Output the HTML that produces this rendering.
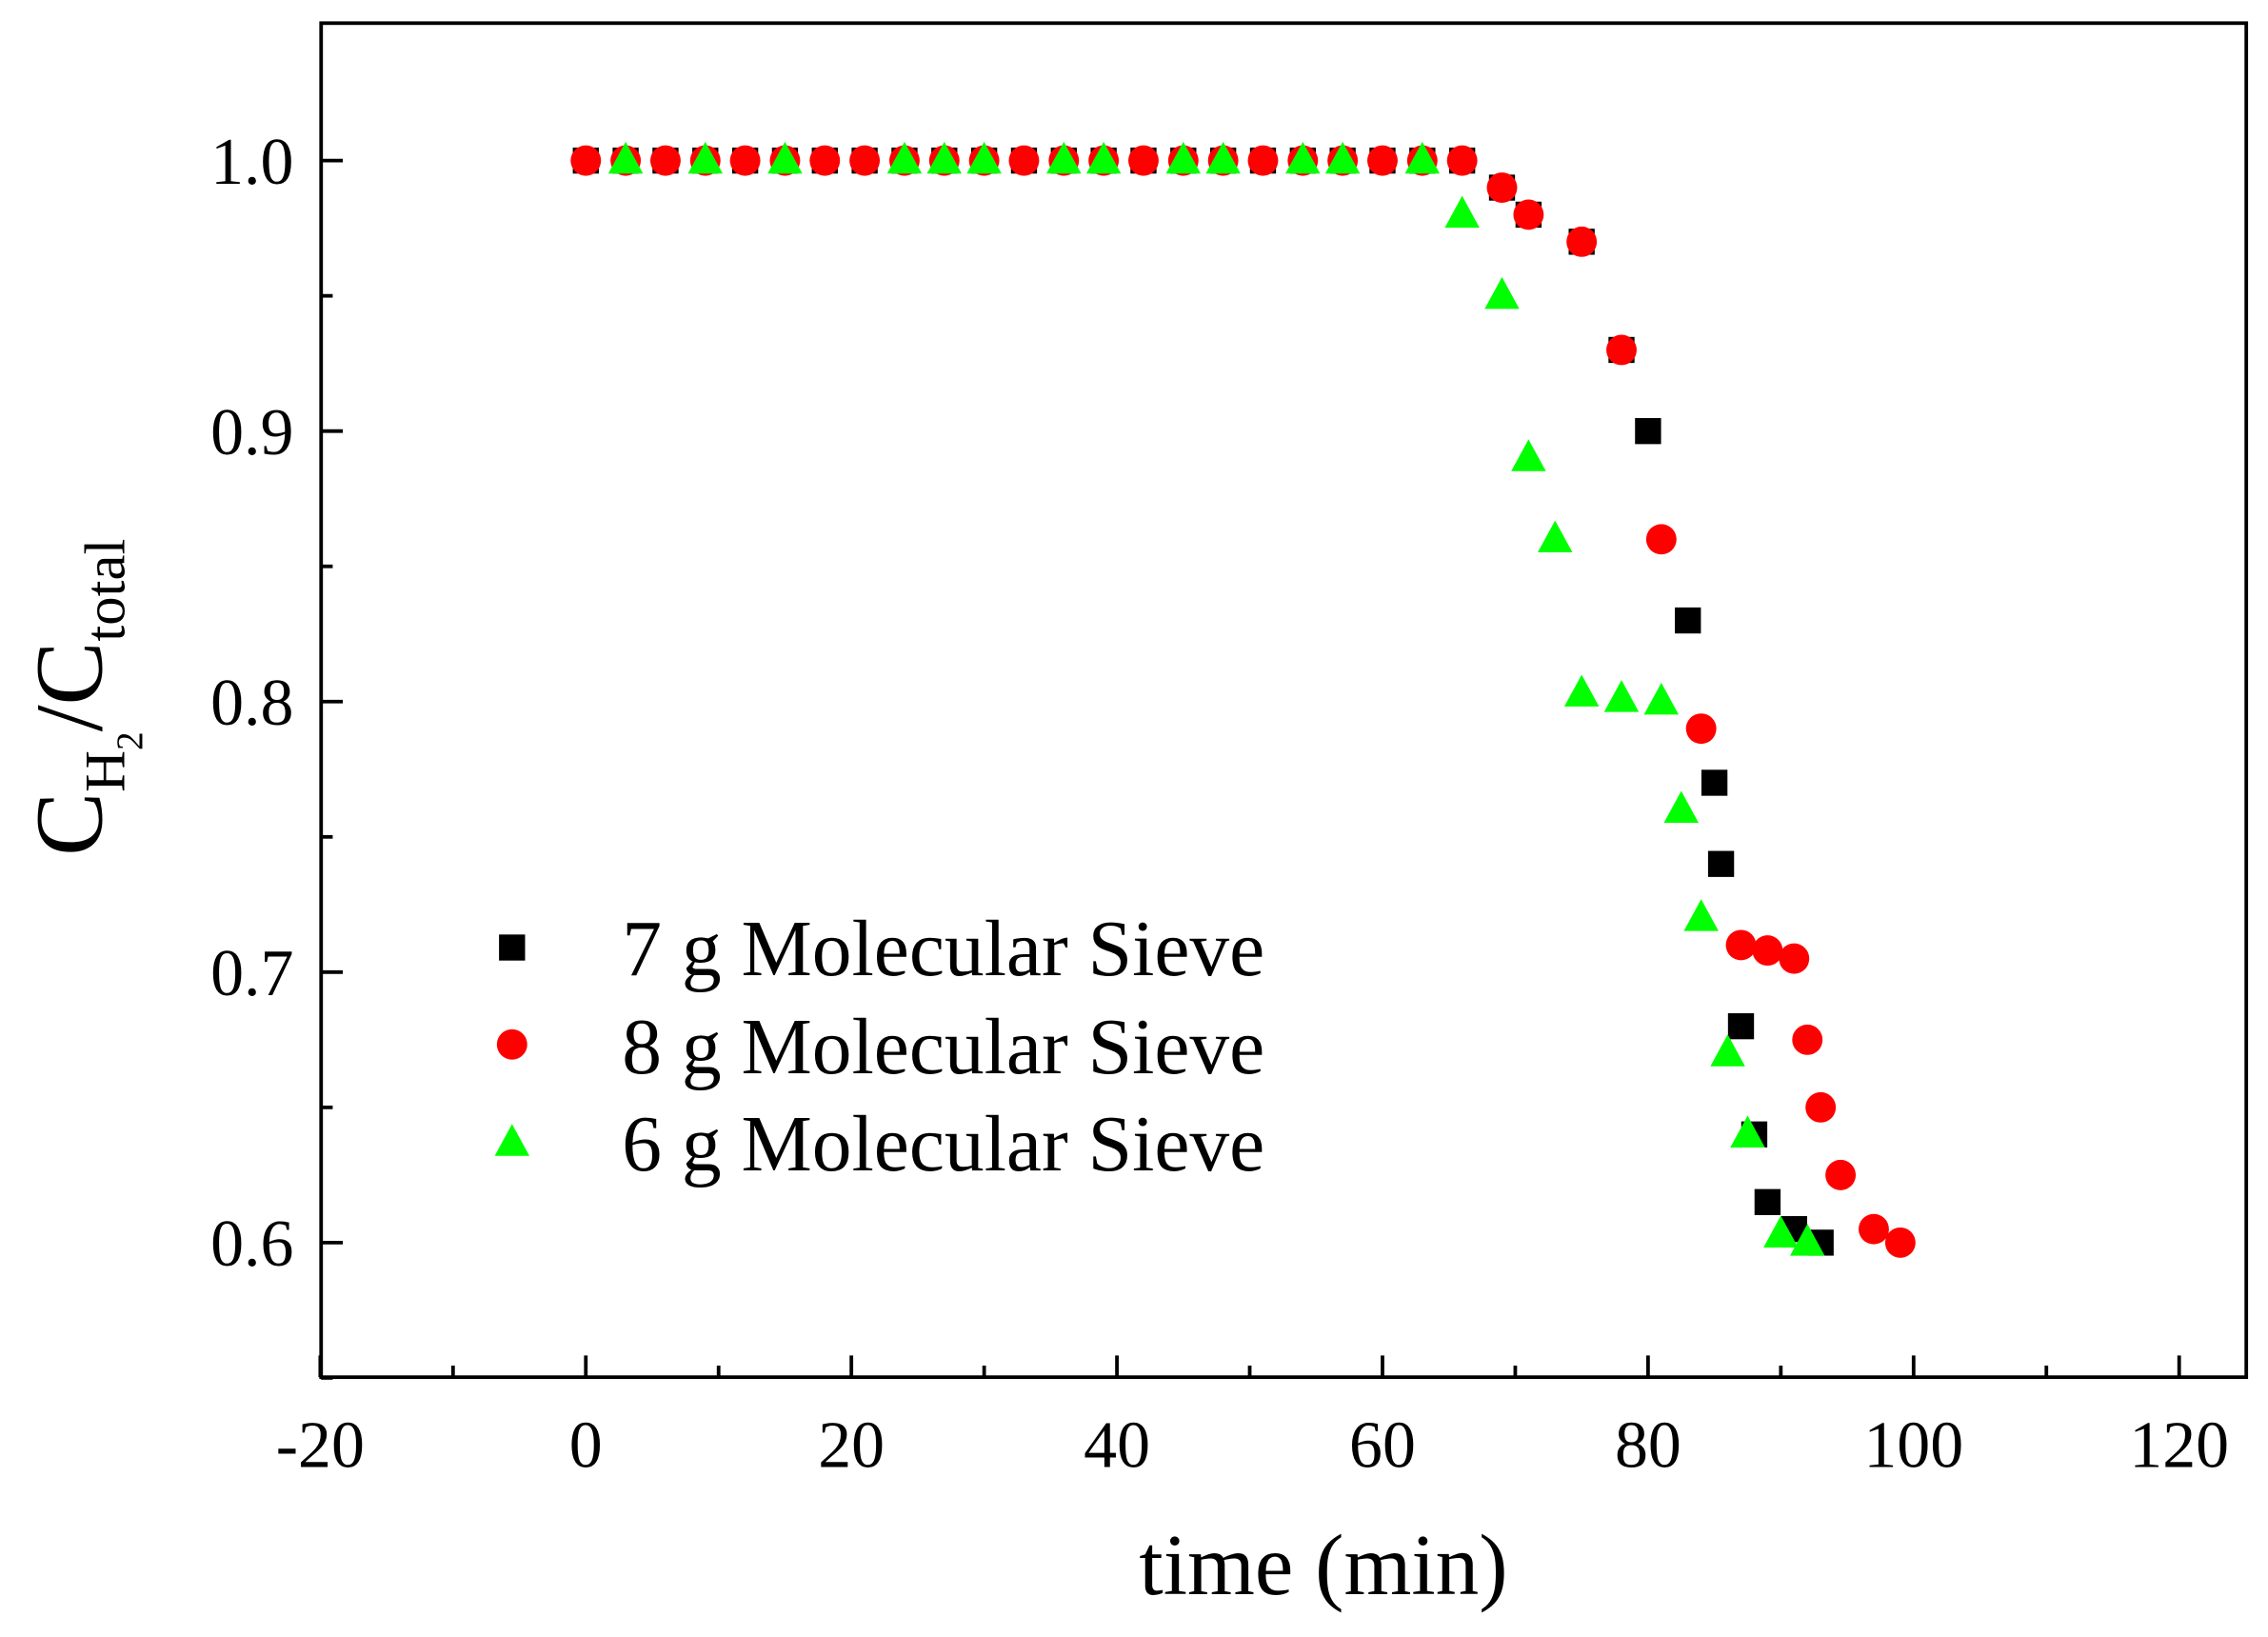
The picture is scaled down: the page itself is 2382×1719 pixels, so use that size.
<!DOCTYPE html>
<html><head><meta charset="utf-8"><style>html,body{margin:0;padding:0;background:#fff}svg{display:block}</style></head><body>
<svg width="2382" height="1719" viewBox="0 0 1568 1131.6" xmlns="http://www.w3.org/2000/svg" font-family="'Liberation Serif',serif">
<defs>
<rect id="s" x="-9" y="-9" width="18" height="18" fill="#000"/>
<circle id="c" r="10.5" fill="#ff0000"/>
<polygon id="t" points="0,-13 12,9 -12,9" fill="#00ff00"/>
</defs>
<rect x="222" y="16" width="1331" height="936" fill="none" stroke="#000" stroke-width="2.5"/>
<g stroke="#000" stroke-width="2.5" id="ticks"></g>
<g id="labels" font-size="46" fill="#000"></g>
<g id="data"></g>
<text x="915" y="1102" font-size="60" text-anchor="middle">time (min)</text>
<text transform="translate(70,482) rotate(-90)" font-size="66" text-anchor="middle">C<tspan font-size="40" dy="16">H</tspan><tspan font-size="26" dy="12">2</tspan><tspan dy="-28">/C</tspan><tspan font-size="40" dy="16">total</tspan></text>
<g font-size="55">
<use href="#s" x="354" y="655"/><text x="430" y="674">7 g Molecular Sieve</text>
<use href="#c" x="354" y="722"/><text x="430" y="742">8 g Molecular Sieve</text>
<use href="#t" x="354" y="790"/><text x="430" y="809">6 g Molecular Sieve</text>
</g>
<script>
var X=function(v){return 405+v*9.18},Y=function(v){return 111+(1-v)*1870};
var tk=document.getElementById('ticks'),lb=document.getElementById('labels'),dt=document.getElementById('data'),NS='http://www.w3.org/2000/svg';
function el(p,n,a,t){var e=document.createElementNS(NS,n);for(var k in a)e.setAttribute(k,a[k]);if(t!=null)e.textContent=t;p.appendChild(e);return e;}
for(var v=-20;v<=120;v+=10){var x=X(v),L=(v%20==0)?15:8;el(tk,'line',{x1:x,x2:x,y1:952,y2:952-L});if(v%20==0)el(lb,'text',{x:x,y:1014,'text-anchor':'middle'},String(v));}
for(var i=0;i<=9;i++){var v=0.55+i*0.05;var y=Y(v);if(y<16)continue;var L=(i%2==1)?15:8;el(tk,'line',{x1:222,x2:222+L,y1:y,y2:y});if(i%2==1)el(lb,'text',{x:203,y:y+16,'text-anchor':'end'},v.toFixed(1));}
var sq=[],rd=[],gr=[];
for(var t=0;t<=66;t+=3){sq.push([t,1]);rd.push([t,1]);}
sq=sq.concat([[69,.99],[71,.98],[75,.97],[78,.93],[80,.9],[83,.83],[85,.77],[85.5,.74],[87,.68],[88,.64],[89,.615],[91,.605],[93,.6]]);
rd=rd.concat([[69,.99],[71,.98],[75,.97],[78,.93],[81,.86],[84,.79],[87,.71],[89,.708],[91,.705],[92,.675],[93,.65],[94.5,.625],[97,.605],[99,.6]]);
[3,9,15,24,27,30,36,39,45,48,54,57,63].forEach(function(t){gr.push([t,1])});
gr=gr.concat([[66,.98],[69,.95],[71,.89],[73,.86],[75,.803],[78,.801],[81,.8],[82.5,.76],[84,.72],[86,.67],[87.5,.64],[90,.603],[92,.6]]);
[[sq,'#s'],[rd,'#c'],[gr,'#t']].forEach(function(s){s[0].forEach(function(p){el(dt,'use',{href:s[1],x:X(p[0]),y:Y(p[1])});});});
</script>
</svg>
</body></html>
